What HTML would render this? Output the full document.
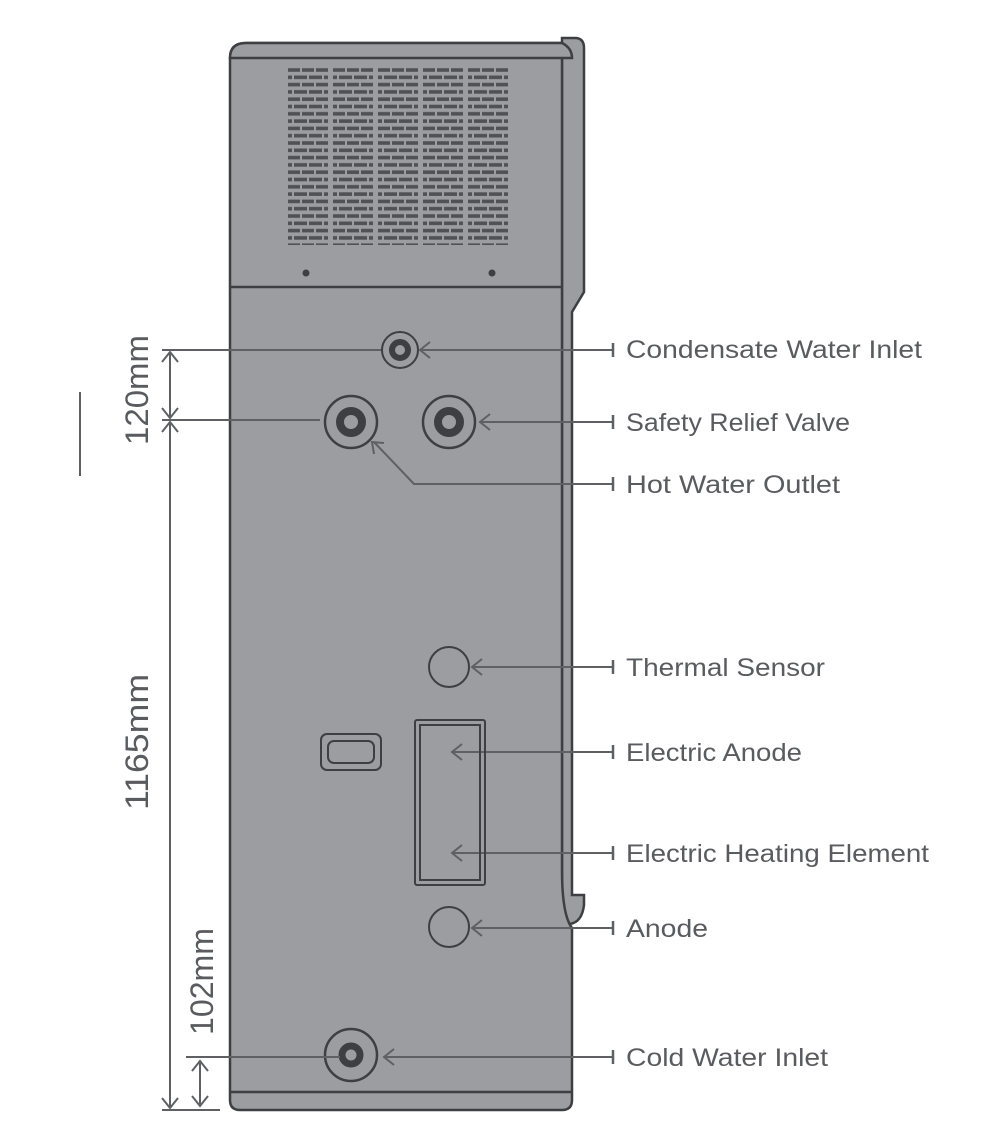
<!DOCTYPE html>
<html><head><meta charset="utf-8"><style>
html,body{margin:0;padding:0;background:#fff;}
svg{display:block;}
text{font-family:"Liberation Sans",sans-serif;fill:#5a5b5e;}
</style></head><body>
<svg width="1008" height="1126" viewBox="0 0 1008 1126" xmlns="http://www.w3.org/2000/svg">
<defs>
<pattern id="brick" x="288" y="67" width="45" height="14.6" patternUnits="userSpaceOnUse">
<rect x="0" y="1.2" width="12" height="3.6" fill="#505154"/>
<rect x="14" y="1.2" width="12" height="3.6" fill="#505154"/>
<rect x="28" y="1.2" width="12" height="3.6" fill="#505154"/>
<rect x="0" y="8.5" width="4" height="3.6" fill="#505154"/>
<rect x="6" y="8.5" width="13" height="3.6" fill="#505154"/>
<rect x="21" y="8.5" width="13" height="3.6" fill="#505154"/>
<rect x="36" y="8.5" width="4" height="3.6" fill="#505154"/>
</pattern>
</defs>
<g stroke="#3e3f42" stroke-width="2.5" fill="#9c9da0">
<path d="M562 38 L575 38 Q584 38 584 48 L584 292 L572 312 L572 895 L584 895 L584 905 Q582 922 570 924 L562 924 Z"/>
<line x1="572" y1="312" x2="572" y2="895" stroke-width="2"/>
<path d="M230 58 Q230 43 246 43 L562 43 L562 870 Q562 915 572 928 L572 1100 Q572 1110 562 1110 L240 1110 Q230 1110 230 1100 Z"/>
<path d="M230 58 Q230 43 246 43 L562 43 Q572 48 572 58 Z"/>
<line x1="230" y1="287" x2="562" y2="287"/>
<line x1="230" y1="1092" x2="572" y2="1092"/>
</g>
<rect x="288" y="67" width="41" height="178" fill="url(#brick)"/>
<rect x="333" y="67" width="41" height="178" fill="url(#brick)"/>
<rect x="378" y="67" width="41" height="178" fill="url(#brick)"/>
<rect x="423" y="67" width="41" height="178" fill="url(#brick)"/>
<rect x="468" y="67" width="41" height="178" fill="url(#brick)"/>
<circle cx="306" cy="273" r="3.5" fill="#3e3f42"/>
<circle cx="492" cy="273" r="3.5" fill="#3e3f42"/>

<g stroke="#5f6063" stroke-width="2" fill="none">
<line x1="162" y1="350" x2="382" y2="350"/>
<line x1="162" y1="420" x2="320" y2="420"/>
<line x1="186" y1="1057" x2="340" y2="1057"/>
<line x1="162" y1="1110" x2="220" y2="1110"/>
<line x1="80" y1="392" x2="80" y2="476"/>
<line x1="170" y1="352" x2="170" y2="418"/>
<path d="M162 362 L170 352 L178 362 M162 408 L170 418 L178 408"/>
<line x1="170" y1="422" x2="170" y2="1108"/>
<path d="M162 432 L170 422 L178 432 M162 1098 L170 1108 L178 1098"/>
<line x1="200" y1="1061" x2="200" y2="1106"/>
<path d="M192 1071 L200 1061 L208 1071 M192 1096 L200 1106 L208 1096"/>

<line x1="420" y1="350" x2="612" y2="350"/>
<path d="M430 342 L420 350 L430 358"/>
<line x1="480" y1="422" x2="612" y2="422"/>
<path d="M490 414 L480 422 L490 430"/>
<path d="M374 442 L414 484 L612 484"/>
<path d="M374 454 L372 442 L384 443"/>
<line x1="472" y1="667" x2="612" y2="667"/>
<path d="M482 659 L472 667 L482 675"/>
<line x1="452" y1="752" x2="612" y2="752"/>
<path d="M462 744 L452 752 L462 760"/>
<line x1="452" y1="853" x2="612" y2="853"/>
<path d="M462 845 L452 853 L462 861"/>
<line x1="472" y1="928" x2="612" y2="928"/>
<path d="M482 920 L472 928 L482 936"/>
<line x1="384" y1="1057" x2="612" y2="1057"/>
<path d="M394 1049 L384 1057 L394 1065"/>
<g stroke-width="2.5">
<line x1="613" y1="343" x2="613" y2="357"/>
<line x1="613" y1="415" x2="613" y2="429"/>
<line x1="613" y1="477" x2="613" y2="491"/>
<line x1="613" y1="660" x2="613" y2="674"/>
<line x1="613" y1="745" x2="613" y2="759"/>
<line x1="613" y1="846" x2="613" y2="860"/>
<line x1="613" y1="921" x2="613" y2="935"/>
<line x1="613" y1="1050" x2="613" y2="1064"/>
</g>
</g>

<g stroke="#3e3f42" fill="none">
<circle cx="400" cy="350" r="18" stroke-width="2" fill="#9c9da0"/>
<circle cx="400" cy="350" r="8" stroke-width="6"/>
<circle cx="351" cy="422" r="26" stroke-width="2.5" fill="#9c9da0"/>
<circle cx="351" cy="422" r="11" stroke-width="8"/>
<circle cx="449" cy="422" r="26" stroke-width="2.5" fill="#9c9da0"/>
<circle cx="449" cy="422" r="11" stroke-width="8"/>
<circle cx="449" cy="667" r="20" stroke-width="2"/>
<circle cx="449" cy="927" r="20" stroke-width="2"/>
<circle cx="351" cy="1055" r="26" stroke-width="2.5"/>
<circle cx="351" cy="1055" r="9" stroke-width="7"/>
<rect x="321" y="734" width="60" height="36" rx="6" stroke-width="2"/>
<rect x="328" y="741" width="46" height="22" rx="6" stroke-width="2"/>
<rect x="415" y="720" width="70" height="165" rx="2" stroke-width="2"/>
<rect x="420" y="725" width="60" height="155" stroke-width="2"/>
</g>
<line x1="230" y1="1057" x2="340" y2="1057" stroke="#5f6063" stroke-width="2"/>

<g font-size="25">
<text x="626" y="358" textLength="296" lengthAdjust="spacingAndGlyphs">Condensate Water Inlet</text>
<text x="626" y="431" textLength="224" lengthAdjust="spacingAndGlyphs">Safety Relief Valve</text>
<text x="626" y="493" textLength="214" lengthAdjust="spacingAndGlyphs">Hot Water Outlet</text>
<text x="626" y="676" textLength="199" lengthAdjust="spacingAndGlyphs">Thermal Sensor</text>
<text x="626" y="761" textLength="176" lengthAdjust="spacingAndGlyphs">Electric Anode</text>
<text x="626" y="862" textLength="303" lengthAdjust="spacingAndGlyphs">Electric Heating Element</text>
<text x="626" y="937" textLength="82" lengthAdjust="spacingAndGlyphs">Anode</text>
<text x="626" y="1066" textLength="202" lengthAdjust="spacingAndGlyphs">Cold Water Inlet</text>
</g>
<g font-size="32">
<text transform="translate(148,445) rotate(-90)" textLength="110" lengthAdjust="spacingAndGlyphs">120mm</text>
<text transform="translate(148,810) rotate(-90)" textLength="136" lengthAdjust="spacingAndGlyphs">1165mm</text>
<text transform="translate(213,1035) rotate(-90)" textLength="107" lengthAdjust="spacingAndGlyphs">102mm</text>
</g>
</svg>
</body></html>
